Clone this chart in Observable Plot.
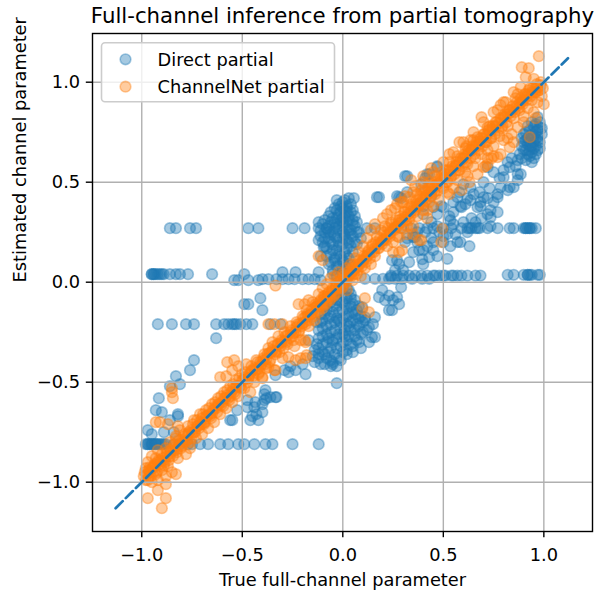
<!DOCTYPE html>
<html><head><meta charset="utf-8">
<script src="https://cdn.jsdelivr.net/npm/d3@7"></script>
<script src="https://cdn.jsdelivr.net/npm/@observablehq/plot@0.6"></script>
<style>html,body{margin:0;padding:0;background:#fff} svg{display:block}</style>
</head><body><div id="chart"></div>
<script>
const chartTitle = "Full-channel inference from partial tomography";
const xLabel = "True full-channel parameter";
const yLabel = "Estimated channel parameter";
const seriesNames = ["Direct partial", "ChannelNet partial"];
const seriesColors = ["#1f77b4", "#ff7f0e"];
const xTicks = [-1, -0.5, 0, 0.5, 1];
const yTicks = [-1, -0.5, 0, 0.5, 1];
const tickLabels = ["−1.0", "−0.5", "0.0", "0.5", "1.0"];
const diagonalEnds = [-1.13, 1.12];

// Direct partial estimates (blue)
const directPartial = [
[-0.86,0.27],[-0.83,0.27],[-0.76,0.27],[-0.73,0.27],[-0.47,0.27],[-0.42,0.27],[-0.25,0.27],[-0.19,0.27],[-0.12,0.27],[-0.08,0.27],
[0.12,0.27],[0.16,0.27],[0.34,0.27],[0.38,0.27],[0.42,0.27],[0.45,0.27],[0.50,0.27],[0.54,0.27],[0.59,0.27],[0.62,0.27],[0.64,0.27],[0.66,0.27],[0.68,0.27],[0.72,0.27],[0.77,0.27],[0.83,0.27],[0.85,0.27],[0.90,0.27],[0.91,0.27],[0.92,0.27],[0.93,0.27],[0.94,0.27],[0.96,0.27],
[0.91,0.27],[0.93,0.27],[0.63,0.27],[0.67,0.27],
[-0.95,0.04],[-0.95,0.04],[-0.94,0.04],[-0.93,0.04],[-0.92,0.04],[-0.90,0.04],[-0.89,0.04],[-0.86,0.04],[-0.83,0.04],[-0.81,0.04],[-0.77,0.04],[-0.65,0.04],[-0.49,0.04],
[-0.94,0.04],[-0.91,0.04],
[-0.54,0.01],[-0.52,0.01],[-0.47,0.01],[-0.42,0.01],[-0.40,0.015],[-0.37,0.015],[-0.33,0.015],[-0.30,0.015],[-0.27,0.015],[-0.24,0.015],[-0.20,0.015],[-0.17,0.015],[-0.14,0.015],[-0.11,0.01],
[-0.30,0.05],[-0.235,0.05],[-0.12,0.05],
[0.11,0.017],[0.16,0.017],[0.20,0.017],[0.23,0.017],[0.26,0.017],[0.295,0.017],[0.345,0.017],[0.395,0.017],[0.43,0.017],
[0.24,0.033],[0.27,0.033],[0.30,0.033],[0.33,0.033],[0.36,0.033],[0.39,0.033],[0.42,0.033],[0.45,0.033],[0.48,0.033],[0.51,0.033],[0.54,0.033],[0.57,0.033],[0.59,0.033],[0.62,0.033],[0.66,0.033],[0.685,0.033],[0.82,0.037],[0.85,0.037],[0.90,0.037],[0.92,0.037],[0.93,0.037],[0.97,0.037],[0.98,0.037],
[0.46,0.033],[0.50,0.033],[0.55,0.033],[0.92,0.037],[0.94,0.037],
[-0.92,-0.21],[-0.85,-0.21],[-0.78,-0.21],[-0.74,-0.21],[-0.63,-0.21],[-0.59,-0.21],[-0.57,-0.21],[-0.55,-0.21],[-0.54,-0.21],[-0.53,-0.21],[-0.51,-0.21],[-0.48,-0.21],[-0.45,-0.21],[-0.36,-0.21],[-0.31,-0.21],[-0.63,-0.28],
[-0.98,-0.81],[-0.97,-0.81],[-0.96,-0.81],[-0.95,-0.81],[-0.94,-0.81],[-0.93,-0.81],[-0.92,-0.81],[-0.91,-0.81],[-0.90,-0.81],[-0.89,-0.81],[-0.88,-0.81],[-0.84,-0.81],[-0.81,-0.81],[-0.77,-0.81],[-0.75,-0.81],[-0.71,-0.81],[-0.67,-0.81],[-0.61,-0.81],[-0.57,-0.81],[-0.52,-0.81],[-0.49,-0.81],[-0.44,-0.81],[-0.385,-0.81],[-0.35,-0.81],[-0.25,-0.81],[-0.12,-0.81],
[-0.97,-0.81],[-0.95,-0.81],[-0.93,-0.81],
[-0.74,-0.39],[-0.76,-0.44],[-0.83,-0.47],[-0.81,-0.51],[-0.86,-0.52],[-0.915,-0.58],[-0.93,-0.64],[-0.90,-0.65],[-0.82,-0.66],[-0.97,-0.74],[-0.82,-0.67],[-0.86,-0.69],[-0.89,-0.75],[-0.84,-0.75],[-0.95,-0.76],
[-0.56,-0.69],[-0.46,-0.69],[-0.44,-0.625],[-0.43,-0.66],[-0.36,-0.575],[-0.33,-0.575],[-0.39,-0.59],[-0.475,-0.625],[-0.525,-0.64],[-0.55,-0.69],[-0.45,-0.67],[-0.42,-0.69],[-0.40,-0.65],[-0.38,-0.58],[-0.435,-0.60],[-0.39,-0.56],[-0.475,-0.59],
[-0.335,-0.465],[-0.385,-0.54],[-0.335,-0.575],[-0.40,-0.61],[-0.27,-0.45],[-0.235,-0.44],[-0.185,-0.46],[-0.26,-0.42],[-0.29,-0.44],[-0.20,-0.41],[-0.14,-0.40],[-0.11,-0.41],[-0.06,-0.42],[-0.05,-0.41],[-0.12,-0.36],[-0.17,-0.29],
[-0.49,-0.11],[-0.41,-0.08],[-0.40,-0.14],[-0.47,-0.11],[-0.11,0.13],[-0.095,0.175],
[0.03,0.42],[0.0,0.40],[-0.01,0.38],[0.02,0.37],[-0.03,0.36],[0.04,0.35],[-0.02,0.34],[0.01,0.33],[-0.05,0.32],[0.03,0.31],[-0.04,0.30],[0.0,0.30],[0.05,0.29],[-0.07,0.28],[-0.02,0.28],[0.02,0.27],[-0.09,0.25],[-0.05,0.25],[0.0,0.25],[0.04,0.24],[-0.11,0.23],[-0.07,0.22],[-0.03,0.22],[0.02,0.21],[-0.10,0.20],[-0.05,0.19],[0.0,0.19],[0.04,0.18],[-0.08,0.17],[-0.03,0.16],[0.01,0.15],[-0.06,0.14],[-0.01,0.13],[0.03,0.12],[-0.04,0.11],[0.0,0.10],[-0.07,0.09],[-0.02,0.08],[0.02,0.07],[-0.05,0.06],[0.0,0.05],[-0.03,0.03],[0.02,0.02],
[0.07,0.30],[0.08,0.25],[0.09,0.22],[-0.12,0.30],[0.01,0.36],[-0.01,0.31],[0.03,0.26],[-0.04,0.27],[0.01,0.23],[-0.02,0.20],[0.06,0.20],[-0.06,0.24],
[-0.03,0.41],[0.01,0.41],[0.04,0.39],[-0.02,0.39],[0.02,0.38],[-0.04,0.37],[0.0,0.37],[0.05,0.36],[-0.06,0.35],[0.02,0.35],[-0.01,0.35],[0.06,0.33],[-0.07,0.33],[0.03,0.33],[-0.03,0.32],[0.0,0.32],[-0.09,0.31],[0.05,0.31],[-0.06,0.30],[0.02,0.30],[-0.10,0.29],[-0.03,0.29],[0.06,0.28],[0.0,0.28],[-0.08,0.27],[0.04,0.26],[-0.11,0.26],[-0.02,0.26],[0.07,0.25],[-0.07,0.25],[0.01,0.24],[-0.04,0.23],[0.05,0.23],[-0.09,0.22],[0.0,0.22],[-0.12,0.21],[0.03,0.20],[-0.06,0.20],[0.07,0.19],[-0.02,0.18],[-0.09,0.18],[0.02,0.17],[-0.05,0.16],[0.05,0.15],[-0.02,0.14],[-0.08,0.13],[0.02,0.13],[-0.04,0.12],[0.0,0.11],[-0.06,0.10],[0.03,0.09],[-0.03,0.08],[0.0,0.07],[-0.05,0.04],[0.02,0.04],
[0.0,-0.02],[0.03,-0.04],[-0.02,-0.05],[0.01,-0.07],[0.04,-0.08],[-0.03,-0.09],[0.0,-0.10],[0.05,-0.11],[-0.05,-0.12],[0.02,-0.13],[-0.08,-0.14],[0.07,-0.14],[-0.02,-0.15],[0.03,-0.16],[-0.06,-0.17],[0.09,-0.17],[0.0,-0.18],[-0.10,-0.19],[0.05,-0.19],[-0.04,-0.20],[0.02,-0.21],[-0.08,-0.22],[0.08,-0.22],[-0.01,-0.23],[-0.12,-0.24],[0.04,-0.24],[-0.06,-0.25],[0.10,-0.25],[0.0,-0.26],[-0.10,-0.27],[0.06,-0.27],[-0.03,-0.28],[0.02,-0.29],[-0.08,-0.30],[-0.13,-0.31],[0.04,-0.31],[-0.01,-0.32],[-0.06,-0.33],[0.0,-0.35],[-0.10,-0.35],[-0.04,-0.36],[-0.08,-0.38],[-0.02,-0.38],[-0.05,-0.40],[-0.03,-0.505],
[-0.09,-0.16],[-0.11,-0.20],[0.06,-0.16],[0.10,-0.20],[-0.07,-0.28],[0.08,-0.30],[0.05,-0.35],[-0.12,-0.33],[0.03,-0.22],[-0.02,-0.19],[0.01,-0.27],[-0.05,-0.30],[-0.09,-0.36],[0.02,-0.34],
[0.02,-0.03],[-0.01,-0.04],[0.04,-0.06],[-0.04,-0.07],[0.02,-0.08],[-0.02,-0.09],[0.06,-0.09],[0.01,-0.11],[-0.06,-0.10],[0.04,-0.12],[-0.03,-0.12],[0.08,-0.12],[-0.09,-0.12],[0.0,-0.14],[0.05,-0.15],[-0.05,-0.15],[-0.11,-0.16],[0.02,-0.17],[0.08,-0.18],[-0.07,-0.18],[-0.03,-0.18],[0.11,-0.19],[0.04,-0.20],[-0.13,-0.20],[-0.01,-0.20],[0.07,-0.21],[-0.06,-0.21],[-0.10,-0.23],[0.01,-0.24],[0.06,-0.24],[-0.04,-0.24],[0.09,-0.26],[-0.08,-0.26],[-0.02,-0.26],[0.03,-0.27],[-0.12,-0.28],[0.07,-0.29],[-0.05,-0.29],[0.0,-0.30],[-0.10,-0.31],[0.05,-0.32],[-0.03,-0.33],[-0.14,-0.34],[0.02,-0.36],[-0.07,-0.35],[-0.12,-0.38],[-0.01,-0.39],[-0.06,-0.39],[-0.09,-0.41],[-0.03,-0.42],[-0.15,-0.37],[0.09,-0.33],[0.12,-0.24],[0.13,-0.30],
[0.15,-0.21],[0.16,-0.275],[0.11,-0.175],[0.23,-0.14],[0.25,-0.09],[0.18,-0.075],[0.23,-0.067],[0.245,-0.14],[0.16,-0.175],[0.13,-0.225],[0.145,-0.275],[0.21,-0.09],[0.28,-0.11],[0.196,-0.04],[0.097,-0.125],
[0.32,0.53],[0.43,0.54],[0.47,0.58],[0.29,0.42],[0.17,0.425],[0.055,0.42],[0.31,0.53],[0.18,0.425],[0.28,0.425],[0.41,0.52],[0.36,0.225],[0.38,0.16],[0.43,0.125],[0.28,0.09],[0.26,0.06],[0.245,0.11],
[0.93,0.66],[0.88,0.64],[0.97,0.725],[0.98,0.775],[0.97,0.825],[0.87,0.61],[0.83,0.575],[0.80,0.525],[0.785,0.475],[0.83,0.475],[0.77,0.44],[0.87,0.54],[0.635,0.475],[0.60,0.49],[0.70,0.425],[0.72,0.575],[0.42,0.54],[0.47,0.575],[0.39,0.49],
[0.27,0.43],[0.32,0.45],[0.635,0.41],[0.685,0.40],[0.735,0.36],[0.77,0.425],[0.72,0.34],[0.735,0.325],[0.85,0.475],[0.87,0.51],[0.885,0.54],[0.82,0.46],[0.59,0.375],[0.57,0.425],[0.67,0.375],
[0.50,0.20],[0.57,0.20],[0.63,0.18],[0.40,0.16],[0.37,0.20],[0.35,0.225],[0.45,0.16],[0.40,0.09],[0.395,0.115],[0.27,0.11],[0.30,0.06],[0.24,0.025],[0.29,-0.025],[0.27,-0.075],
[0.40,0.34],[0.47,0.34],[0.44,0.30],[0.52,0.24],[0.55,0.29],[0.535,0.31],[0.45,0.375],[0.50,0.375],
[0.72,0.42],[0.77,0.35],[0.735,0.28],[0.685,0.38],[0.62,0.42],[0.585,0.38],[0.64,0.32],[0.55,0.35],[0.49,0.38],[0.44,0.43],[0.40,0.38],[0.47,0.28],[0.50,0.23],[0.45,0.20],[0.535,0.18],[0.585,0.20],[0.52,0.117],[0.47,0.13],[0.42,0.18],[0.37,0.25],[0.32,0.22],[0.29,0.27],
[0.55,0.40],[0.58,0.45],[0.61,0.39],[0.65,0.44],[0.68,0.45],[0.70,0.50],[0.73,0.47],[0.75,0.40],[0.78,0.52],[0.80,0.56],[0.82,0.60],[0.84,0.62],[0.86,0.58],[0.75,0.55],[0.66,0.30],[0.69,0.32],[0.60,0.30],[0.62,0.25],[0.56,0.24],[0.53,0.33],[0.48,0.25],[0.44,0.22],[0.41,0.25],[0.35,0.15],[0.33,0.10],[0.31,0.20],
[0.90,0.70],[0.92,0.72],[0.94,0.74],[0.95,0.70],[0.96,0.68],[0.93,0.76],[0.91,0.66],[0.95,0.78],[0.97,0.76],[0.89,0.68],[0.92,0.69],[0.94,0.65],[0.96,0.72],[0.98,0.70],[0.90,0.74],[0.93,0.63],[0.97,0.66],[0.95,0.62],[0.99,0.74],[0.91,0.71],[0.94,0.68],
[0.89,0.72],[0.91,0.75],[0.92,0.78],[0.94,0.80],[0.96,0.79],[0.98,0.80],[0.93,0.70],[0.95,0.73],[0.97,0.71],[0.90,0.66],[0.92,0.64],[0.96,0.64],[0.98,0.67],[0.89,0.62],[0.94,0.60],[0.91,0.61],[0.96,0.75],[0.99,0.77],[0.93,0.68],[0.95,0.67]
];

// ChannelNet partial estimates (orange)
const channelNetPartial = [
[-0.99,-0.97],[-0.98,-0.93],[-0.97,-0.99],[-0.97,-0.90],[-0.96,-0.95],[-0.95,-0.87],[-0.95,-1.00],[-0.94,-0.92],[-0.93,-0.96],[-0.93,-0.88],[-0.92,-0.84],[-0.92,-0.99],[-0.91,-0.91],[-0.90,-0.94],[-0.90,-0.86],[-0.89,-0.89],[-0.88,-0.97],[-0.88,-0.83],[-0.87,-0.92],[-0.86,-0.87],[-0.86,-0.80],[-0.85,-0.95],
[-0.97,-1.08],[-0.92,-1.04],[-0.88,-1.08],[-0.90,-1.13],[-0.88,-1.01],[-0.93,-0.70],[-0.91,-0.70],[-0.87,-0.71],[-0.85,-0.55],[-0.845,-0.58],[-0.85,-0.53],[-0.96,-0.925],
[-0.84,-0.84],[-0.83,-0.78],[-0.83,-0.96],[-0.82,-0.88],[-0.81,-0.74],[-0.80,-0.82],[-0.79,-0.77],[-0.78,-0.86],[-0.77,-0.72],[-0.76,-0.80],[-0.76,-0.83],[-0.75,-0.75],[-0.74,-0.69],[-0.73,-0.78],[-0.72,-0.72],[-0.71,-0.66],[-0.70,-0.76],[-0.70,-0.68],[-0.69,-0.71],[-0.68,-0.64],[-0.67,-0.73],[-0.66,-0.67],[-0.65,-0.61],[-0.64,-0.70],[-0.63,-0.63],[-0.62,-0.58],[-0.61,-0.66],[-0.60,-0.60],[-0.83,-0.77],[-0.82,-0.72],
[-0.59,-0.55],[-0.58,-0.63],[-0.58,-0.47],[-0.57,-0.58],[-0.56,-0.52],[-0.55,-0.44],[-0.55,-0.60],[-0.54,-0.55],[-0.53,-0.49],[-0.52,-0.42],[-0.52,-0.57],[-0.51,-0.52],[-0.50,-0.46],[-0.49,-0.53],[-0.48,-0.41],[-0.47,-0.48],[-0.46,-0.55],[-0.45,-0.44],[-0.44,-0.50],[-0.43,-0.39],[-0.42,-0.46],[-0.41,-0.42],[-0.40,-0.48],[-0.575,-0.40],[-0.54,-0.39],[-0.61,-0.475],
[-0.39,-0.36],[-0.38,-0.43],[-0.37,-0.33],[-0.37,-0.21],[-0.36,-0.39],[-0.35,-0.30],[-0.34,-0.21],[-0.34,-0.44],[-0.33,-0.35],[-0.32,-0.27],[-0.31,-0.32],[-0.30,-0.38],[-0.29,-0.25],[-0.28,-0.30],[-0.27,-0.375],[-0.26,-0.22],[-0.25,-0.27],[-0.24,-0.32],[-0.235,-0.39],[-0.23,-0.20],[-0.22,-0.11],[-0.22,-0.25],[-0.21,-0.29],[-0.21,-0.38],[-0.20,-0.17],[-0.40,-0.475],[-0.37,-0.425],[-0.335,-0.44],[-0.335,-0.017],[-0.30,-0.21],[-0.185,-0.38],[-0.185,-0.30],[-0.19,-0.11],[-0.18,-0.365],[-0.19,-0.29],
[-0.19,-0.20],[-0.18,-0.14],[-0.17,-0.09],[-0.17,-0.22],[-0.16,-0.16],[-0.15,-0.10],[-0.14,-0.19],[-0.13,-0.12],[-0.12,-0.06],[-0.12,-0.15],[-0.11,-0.09],[-0.10,-0.03],[-0.10,-0.13],[-0.09,-0.07],[-0.08,-0.01],[-0.08,-0.10],[-0.07,-0.05],[-0.06,0.02],[-0.06,-0.08],[-0.05,-0.03],[-0.04,0.03],[-0.04,-0.06],[-0.03,0.00],[-0.02,0.05],[-0.02,-0.03],[-0.01,0.01],[0.0,-0.02],[0.0,0.04],[-0.12,0.13],[-0.10,0.11],
[0.01,0.02],[0.02,0.07],[0.02,-0.04],[0.03,0.03],[0.04,0.09],[0.05,0.01],[0.05,0.06],[0.06,0.12],[0.07,0.04],[0.08,0.09],[0.08,0.15],[0.09,0.03],[0.10,0.11],[0.10,0.18],[0.11,0.07],[0.12,0.13],[0.12,0.22],[0.13,0.16],[0.14,0.09],[0.14,0.26],[0.15,0.19],[0.16,0.13],[0.16,0.29],[0.17,0.23],[0.18,0.17],[0.19,0.26],[0.20,0.21],[0.097,-0.133],[0.13,-0.15],[0.11,-0.08],
[0.21,0.28],[0.22,0.18],[0.22,0.34],[0.23,0.24],[0.24,0.30],[0.25,0.20],[0.26,0.275],[0.26,0.37],[0.27,0.23],[0.28,0.31],[0.28,0.225],[0.29,0.40],[0.295,0.16],[0.30,0.27],[0.31,0.35],[0.32,0.24],[0.33,0.425],[0.33,0.31],[0.34,0.51],[0.34,0.38],[0.35,0.28],[0.36,0.36],[0.37,0.44],[0.37,0.33],[0.38,0.21],[0.38,0.39],[0.39,0.46],[0.40,0.36],[0.41,0.46],[0.41,0.42],[0.42,0.32],[0.43,0.50],[0.43,0.40],[0.445,0.49],[0.44,0.45],[0.45,0.38],[0.46,0.53],[0.46,0.44],[0.47,0.49],[0.48,0.41],[0.49,0.20],[0.49,0.55],[0.495,0.267],[0.50,0.47],[0.28,0.15],[0.39,0.21],
[0.20,0.32],[0.24,0.36],[0.27,0.39],[0.31,0.43],[0.36,0.48],[0.40,0.53],[0.44,0.57],[0.25,0.15],[0.35,0.24],
[0.51,0.56],[0.52,0.50],[0.53,0.44],[0.53,0.60],[0.54,0.53],[0.55,0.47],[0.56,0.58],[0.57,0.63],[0.57,0.51],[0.58,0.56],[0.59,0.46],[0.60,0.62],[0.61,0.67],[0.61,0.55],[0.62,0.59],[0.63,0.50],[0.64,0.66],[0.65,0.71],[0.65,0.58],[0.66,0.62],[0.67,0.54],[0.68,0.69],[0.69,0.825],[0.69,0.64],[0.70,0.74],[0.71,0.58],[0.71,0.70],[0.72,0.66],[0.73,0.78],[0.74,0.62],[0.74,0.72],[0.75,0.68],
[0.53,0.64],[0.635,0.71],[0.615,0.68],[0.67,0.725],[0.72,0.775],[0.72,0.59],[0.70,0.575],[0.80,0.71],
[0.76,0.80],[0.77,0.86],[0.77,0.625],[0.78,0.73],[0.785,0.885],[0.785,0.64],[0.79,0.77],[0.80,0.83],[0.81,0.90],[0.82,0.78],[0.83,0.675],[0.83,0.86],[0.84,0.74],[0.85,0.70],[0.85,0.82],[0.86,0.92],[0.87,0.775],[0.87,0.94],[0.88,0.86],[0.885,0.975],[0.89,1.075],[0.89,0.90],[0.90,0.80],[0.91,1.025],[0.91,0.94],[0.92,0.87],[0.925,1.07],[0.93,0.725],[0.93,0.97],[0.94,0.91],[0.95,1.017],[0.95,0.85],[0.96,0.95],[0.97,0.90],[0.975,1.13],[0.98,0.96],[0.99,0.93],[1.0,0.89],[0.96,0.82],
[-0.985,-0.95],[-0.975,-0.96],[-0.965,-0.94],[-0.955,-0.97],[-0.945,-0.93],[-0.935,-0.91],[-0.925,-0.95],[-0.915,-0.89],[-0.905,-0.92],[-0.895,-0.88],[-0.885,-0.90],[-0.875,-0.85],[-0.865,-0.89],[-0.855,-0.84],[-0.845,-0.87],[-0.835,-0.81],[-0.825,-0.85],[-0.815,-0.79],[-0.805,-0.83],[-0.795,-0.80],[-0.785,-0.76],[-0.775,-0.79],[-0.765,-0.75],[-0.755,-0.78],[-0.745,-0.71],[-0.735,-0.75],[-0.725,-0.69],[-0.715,-0.73],[-0.705,-0.71],[-0.695,-0.66],[-0.685,-0.70],[-0.675,-0.67],[-0.665,-0.63],[-0.655,-0.68],[-0.645,-0.64],[-0.635,-0.60],[-0.625,-0.65],[-0.615,-0.61],[-0.605,-0.57],[-0.595,-0.62],[-0.585,-0.58],[-0.575,-0.54],[-0.565,-0.59],[-0.555,-0.55],[-0.545,-0.51],[-0.535,-0.56],[-0.525,-0.52],[-0.515,-0.48],[-0.505,-0.53],[-0.495,-0.49],[-0.485,-0.45],[-0.475,-0.50],[-0.465,-0.46],[-0.455,-0.42],[-0.445,-0.47],[-0.435,-0.44],[-0.425,-0.40],[-0.415,-0.45],[-0.405,-0.41],[-0.395,-0.38],[-0.385,-0.41],[-0.375,-0.36],[-0.365,-0.40],[-0.355,-0.35],[-0.345,-0.32],[-0.335,-0.36],[-0.325,-0.31],[-0.315,-0.35],[-0.305,-0.29],[-0.295,-0.33],[-0.285,-0.27],[-0.275,-0.31],[-0.265,-0.28],[-0.255,-0.24],[-0.245,-0.29],[-0.235,-0.25],[-0.225,-0.21],[-0.215,-0.24],[-0.205,-0.22],[-0.195,-0.18],[-0.185,-0.21],[-0.175,-0.16],[-0.165,-0.19],[-0.155,-0.14],[-0.145,-0.17],[-0.135,-0.11],[-0.125,-0.14],[-0.115,-0.10],[-0.105,-0.12],[-0.095,-0.07],[-0.085,-0.11],[-0.075,-0.06],[-0.065,-0.09],[-0.055,-0.04],[-0.045,-0.07],[-0.035,-0.02],[-0.025,-0.05],[-0.015,0.00],[-0.005,-0.03],
[0.005,0.03],[0.015,0.00],[0.025,0.05],[0.035,0.02],[0.045,0.07],[0.055,0.04],[0.065,0.09],[0.075,0.06],[0.085,0.11],[0.095,0.08],[0.105,0.13],[0.115,0.10],[0.125,0.15],[0.135,0.12],[0.145,0.18],[0.155,0.15],[0.165,0.20],[0.175,0.17],[0.185,0.22],[0.195,0.19],[0.205,0.25],[0.215,0.21],[0.225,0.27],[0.235,0.23],[0.245,0.29],[0.255,0.26],[0.265,0.31],[0.275,0.28],[0.285,0.33],[0.295,0.30],[0.305,0.35],[0.315,0.31],[0.325,0.37],[0.335,0.33],[0.345,0.39],[0.355,0.35],[0.365,0.41],[0.375,0.38],[0.385,0.43],[0.395,0.39],[0.405,0.45],[0.415,0.41],[0.425,0.47],[0.435,0.43],[0.445,0.48],[0.455,0.45],[0.465,0.50],[0.475,0.46],[0.485,0.52],[0.495,0.48],[0.505,0.54],[0.515,0.50],[0.525,0.56],[0.535,0.52],[0.545,0.58],[0.555,0.54],[0.565,0.60],[0.575,0.56],[0.585,0.62],[0.595,0.58],[0.605,0.64],[0.615,0.60],[0.625,0.66],[0.635,0.62],[0.645,0.68],[0.655,0.64],[0.665,0.70],[0.675,0.66],[0.685,0.72],[0.695,0.68],[0.705,0.74],[0.715,0.70],[0.725,0.76],[0.735,0.72],[0.745,0.78],[0.755,0.74],[0.765,0.80],[0.775,0.76],[0.785,0.82],[0.795,0.78],[0.805,0.84],[0.815,0.80],[0.825,0.86],[0.835,0.83],[0.845,0.88],[0.855,0.85],[0.865,0.90],[0.875,0.87],[0.885,0.92],[0.895,0.89],[0.905,0.94],[0.915,0.91],[0.925,0.96],[0.935,0.93],[0.945,0.97],[0.955,0.95],[0.965,0.99],[0.975,0.96],[0.985,1.00],[0.995,0.97],
[-0.98,-0.99],[-0.965,-0.975],[-0.95,-0.93],[-0.935,-0.945],[-0.92,-0.90],[-0.905,-0.895],[-0.89,-0.915],[-0.875,-0.87],[-0.86,-0.855],[-0.845,-0.83],[-0.83,-0.84],[-0.815,-0.82],[-0.80,-0.79],[-0.785,-0.80],[-0.77,-0.76],[-0.755,-0.74],[-0.74,-0.75],[-0.725,-0.72],[-0.71,-0.70],[-0.695,-0.705],[-0.68,-0.67],[-0.665,-0.66],[-0.65,-0.655],[-0.635,-0.625],[-0.62,-0.61],[-0.605,-0.615],[-0.59,-0.58],[-0.575,-0.565],[-0.56,-0.57],[-0.545,-0.535],[-0.53,-0.52],[-0.515,-0.525],[-0.50,-0.49],[-0.485,-0.475],[-0.47,-0.48],[-0.455,-0.445],[-0.44,-0.43],[-0.425,-0.435],[-0.41,-0.40],[-0.395,-0.39],[-0.38,-0.385],[-0.365,-0.355],[-0.35,-0.34],[-0.335,-0.345],[-0.32,-0.31],[-0.305,-0.30],[-0.29,-0.295],[-0.275,-0.265],[-0.26,-0.25],[-0.245,-0.255],[-0.23,-0.225],[-0.215,-0.21],[-0.20,-0.205],[-0.185,-0.175],[-0.17,-0.165],[-0.155,-0.16],[-0.14,-0.13],[-0.125,-0.12],[-0.11,-0.115],[-0.095,-0.085],[-0.08,-0.075],[-0.065,-0.07],[-0.05,-0.045],[-0.035,-0.03],[-0.02,-0.025],[-0.005,0.0],
[0.01,0.015],[0.025,0.02],[0.04,0.045],[0.055,0.06],[0.07,0.075],[0.085,0.09],[0.10,0.105],[0.115,0.125],[0.13,0.14],[0.145,0.15],[0.16,0.17],[0.175,0.19],[0.19,0.20],[0.205,0.215],[0.22,0.235],[0.235,0.25],[0.25,0.265],[0.265,0.275],[0.28,0.295],[0.295,0.315],[0.31,0.325],[0.325,0.34],[0.34,0.355],[0.355,0.375],[0.37,0.39],[0.385,0.40],[0.40,0.42],[0.415,0.435],[0.43,0.45],[0.445,0.465],[0.46,0.48],[0.475,0.495],[0.49,0.51],[0.505,0.525],[0.52,0.54],[0.535,0.555],[0.55,0.57],[0.565,0.585],[0.58,0.60],[0.595,0.615],[0.61,0.63],[0.625,0.645],[0.64,0.66],[0.655,0.675],[0.67,0.69],[0.685,0.705],[0.70,0.72],[0.715,0.735],[0.73,0.75],[0.745,0.765],[0.76,0.78],[0.775,0.795],[0.79,0.81],[0.805,0.825],[0.82,0.84],[0.835,0.85],[0.85,0.865],[0.865,0.88],[0.88,0.895],[0.895,0.91],[0.91,0.925],[0.925,0.935],[0.94,0.95],[0.955,0.965],[0.97,0.975],[0.985,0.985],
[0.30,0.40],[0.35,0.45],[0.40,0.50],[0.45,0.55],[0.50,0.60],[0.55,0.65],[0.60,0.70],[0.65,0.75],[0.70,0.80],[0.75,0.85],[0.80,0.90],[0.85,0.95],[0.32,0.28],[0.42,0.36],[0.52,0.45],[0.62,0.53],[0.72,0.62],[0.82,0.72],[0.90,0.83],[0.58,0.70],[0.75,0.63]
];

const markerAlpha = 0.4;
const toRows = (pts) => pts.map(([x, y]) => ({x, y}));
const diagonal = diagonalEnds.map(v => ({x: v, y: v}));
const fs = 17.8;
const dotOpts = (c) => ({x: "x", y: "y", r: 5.35, fill: c, fillOpacity: markerAlpha, stroke: c, strokeOpacity: markerAlpha, strokeWidth: 1.6});

const plot = Plot.plot({
  width: 595, height: 596,
  marginLeft: 92, marginRight: 3, marginTop: 33, marginBottom: 65,
  style: {fontFamily: "'DejaVu Sans', sans-serif", fontSize: fs + "px", color: "#000", background: "#fff", overflow: "visible"},
  x: {domain: [-1.245, 1.242], label: null},
  y: {domain: [-1.2465, 1.2435], label: null},
  marks: [
    Plot.dot(toRows(directPartial), dotOpts(seriesColors[0])),
    Plot.dot(toRows(channelNetPartial), dotOpts(seriesColors[1])),
    Plot.gridX(xTicks, {stroke: "#b0b0b0", strokeOpacity: 1, strokeWidth: 1.4}),
    Plot.gridY(yTicks, {stroke: "#b0b0b0", strokeOpacity: 1, strokeWidth: 1.4}),
    Plot.line(diagonal, {x: "x", y: "y", stroke: seriesColors[0], strokeWidth: 2.7, strokeDasharray: "10,4.3"}),
    Plot.frame({stroke: "#000", strokeWidth: 1.4}),
    Plot.axisX(xTicks, {tickFormat: d => tickLabels[xTicks.indexOf(d)], tickSize: 6.2, tickPadding: 11, stroke: "#000", strokeWidth: 1.4, fontSize: fs, label: null}),
    Plot.axisY(yTicks, {tickFormat: d => tickLabels[yTicks.indexOf(d)], tickSize: 6.2, tickPadding: 6.2, stroke: "#000", strokeWidth: 1.4, fontSize: fs, label: null}),
    Plot.text([chartTitle], {text: d => d, frameAnchor: "top", lineAnchor: "bottom", dy: -11, fontSize: 21.3, fill: "#000"}),
    Plot.text([xLabel], {text: d => d, frameAnchor: "bottom", lineAnchor: "bottom", dy: 54, fontSize: fs, fill: "#000"}),
    Plot.text([yLabel], {text: d => d, frameAnchor: "left", lineAnchor: "bottom", rotate: -90, dx: -67, fontSize: fs, fill: "#000"})
  ]
});

// Legend (upper left, matplotlib-style)
const svg = d3.select(plot);
const lg = svg.append("g").attr("font-family", "'DejaVu Sans', sans-serif").attr("font-size", fs + "px").attr("text-anchor", "start");
lg.append("rect").attr("x", 101.5).attr("y", 42.8).attr("width", 233).attr("height", 59)
  .attr("rx", 3.5).attr("fill", "#fff").attr("fill-opacity", 0.8).attr("stroke", "#cccccc").attr("stroke-width", 1.6);
seriesNames.forEach((name, i) => {
  const cy = 59.3 + i * 27.4;
  lg.append("circle").attr("cx", 125.5).attr("cy", cy).attr("r", 5.35)
    .style("fill", seriesColors[i]).style("fill-opacity", markerAlpha)
    .style("stroke", seriesColors[i]).style("stroke-opacity", markerAlpha).style("stroke-width", 1.6);
  lg.append("text").attr("x", 157.5).attr("y", cy + 6.3).attr("text-anchor", "start").attr("fill", "#000").text(name);
});

document.getElementById("chart").appendChild(plot);
</script></body></html>
